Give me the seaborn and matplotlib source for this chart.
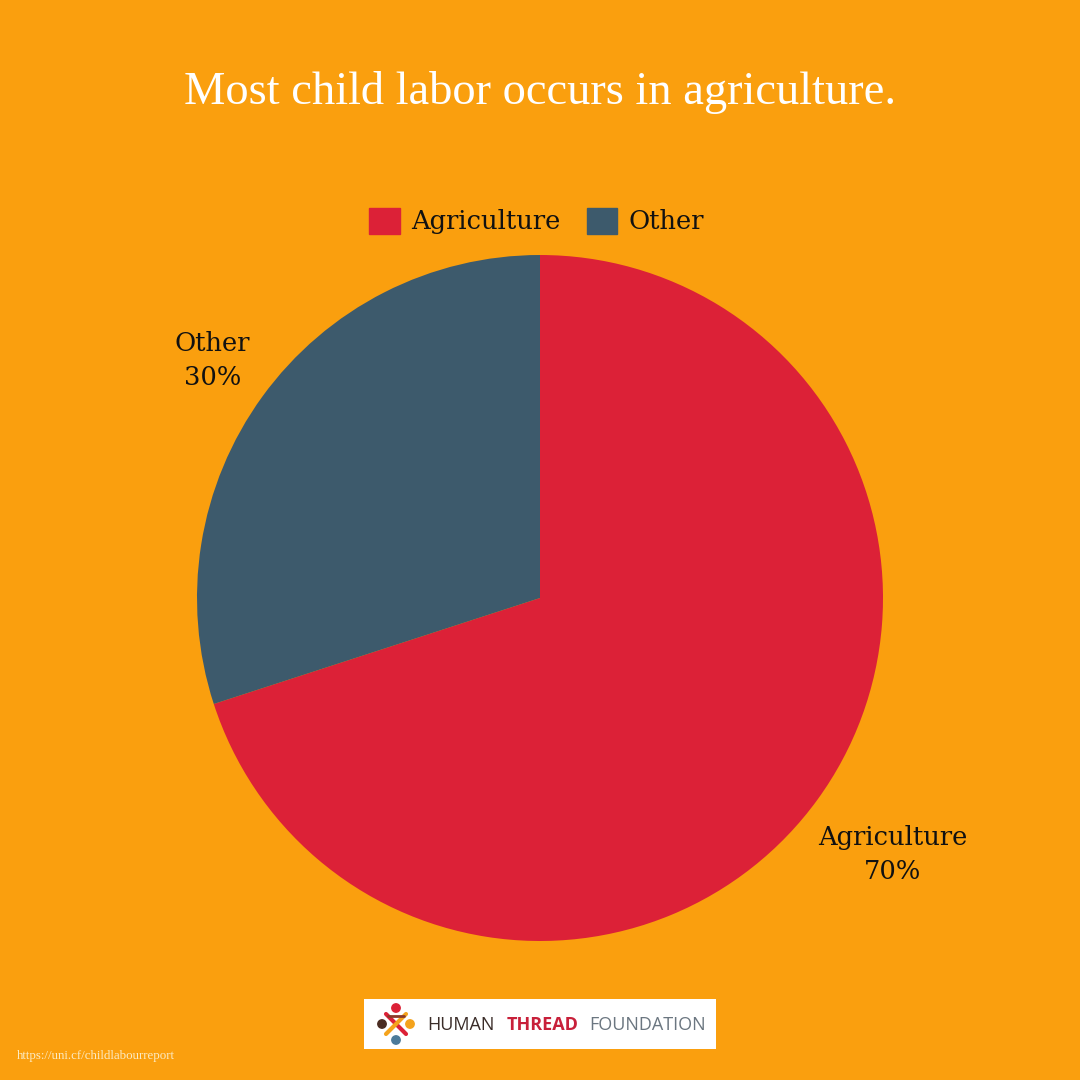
import numpy as np
import matplotlib
matplotlib.use("Agg")
import matplotlib.pyplot as plt
import matplotlib.patches as mpatches
import seaborn as sns

# Data
categories = ["Agriculture", "Other"]
shares = [70, 30]
colors = ["#DC2137", "#3D5A6C"]
title = "Most child labor occurs in agriculture."
source = "https://uni.cf/childlabourreport"

bg = "#FA9F0E"
sns.set_theme(style="white")
plt.rcParams["font.family"] = ["DejaVu Serif"]

fig = plt.figure(figsize=(10.8, 10.8), dpi=100, facecolor=bg)

# pie axes: center (540, 598) px, radius 343 px
r = 343 / 1080
cx, cy = 540 / 1080, 1 - 598 / 1080
ax = fig.add_axes([cx - r, cy - r, 2 * r, 2 * r])
ax.set_facecolor(bg)
wedges, _ = ax.pie(shares, colors=colors, startangle=90, counterclock=False,
                   radius=1, wedgeprops=dict(linewidth=0))
ax.set_xlim(-1, 1)
ax.set_ylim(-1, 1)
ax.set_aspect("equal")
ax.axis("off")

# slice labels
label_dist = [1.27, 1.18]
for w, cat, val, d in zip(wedges, categories, shares, label_dist):
    ang = np.deg2rad((w.theta1 + w.theta2) / 2)
    ax.text(d * np.cos(ang), d * np.sin(ang), f"{cat}\n{val}%",
            ha="center", va="center", fontsize=18.5, color="#111111",
            linespacing=1.45, clip_on=False)

# title
fig.text(0.5, 1 - 92 / 1080, title, ha="center", va="center",
         fontsize=33.5, color="white", family="Liberation Serif")

# legend
handles = [mpatches.Patch(color=c, label=l) for c, l in zip(colors, categories)]
fig.legend(handles=handles, loc="center", bbox_to_anchor=(0.497, 1 - 221 / 1080),
           ncol=2, frameon=False, fontsize=18.5, handlelength=1.2, handleheight=1.2,
           handletextpad=0.45, columnspacing=1.0, labelcolor="#111111")

# logo box
logo = fig.add_axes([364 / 1080, 1 - 1049 / 1080, 352 / 1080, 50 / 1080])
logo.set_xlim(364, 716)
logo.set_ylim(1049, 999)
logo.set_facecolor("white")
for s in logo.spines.values():
    s.set_visible(False)
logo.set_xticks([])
logo.set_yticks([])
icon = [(396, 1008, "#DC2137"), (410, 1024, "#F4A31C"), (396, 1040, "#4C7A99"),
        (382, 1024, "#4A2C22")]
for x, y, c in icon:
    logo.add_patch(mpatches.Circle((x, y), 4.2, color=c))
logo.plot([386, 406], [1014, 1034], color="#DC2137", lw=3)
logo.plot([386, 406], [1034, 1014], color="#F4A31C", lw=3)
logo.plot([388, 404], [1016, 1016], color="#8B3A2A", lw=2)
logo.text(427, 1025, "HUMAN", ha="left", va="center", fontsize=13,
          color="#3a2c28", family="Open Sans")
logo.text(507, 1025, "THREAD", ha="left", va="center", fontsize=13,
          color="#C8203A", family="Open Sans", fontweight="bold")
logo.text(589, 1025, "FOUNDATION", ha="left", va="center", fontsize=13,
          color="#6b7680", family="Open Sans")

# source
fig.text(17 / 1080, 1 - 1056 / 1080, source, ha="left", va="center",
         fontsize=9.3, color="#FCEBC4", family="Liberation Serif")

fig.savefig("out.png", dpi=100, facecolor=bg)
